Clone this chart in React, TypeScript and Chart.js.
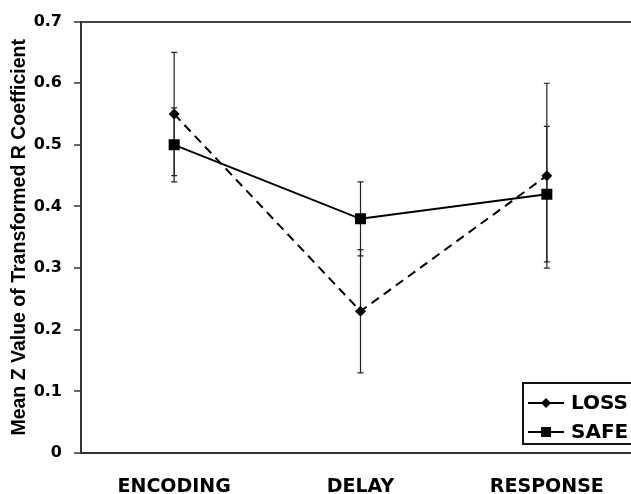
import React, { useEffect, useRef } from "react";
import { Chart, registerables } from "chart.js";

Chart.register(...registerables);

const categories = ["ENCODING", "DELAY", "RESPONSE"];
const lossMeans = [0.55, 0.23, 0.45];
const lossErrors = [0.1, 0.1, 0.15];
const safeMeans = [0.5, 0.38, 0.42];
const safeErrors = [0.06, 0.06, 0.11];
const seriesNames = ["LOSS", "SAFE"];
const yMin = 0;
const yMax = 0.7;
const yStep = 0.1;
const yTitle = "Mean Z Value of Transformed R Coefficient";

const FONT = "'DejaVu Sans', 'Liberation Sans', Arial, sans-serif";
const TITLE_FONT = "'Liberation Sans', Arial, Helvetica, sans-serif";

const errorBarPlugin = {
  id: "errorBars",
  beforeDatasetsDraw(chart: any) {
    const ctx = chart.ctx;
    const xs = chart.scales.x;
    const ys = chart.scales.y;
    ctx.save();
    ctx.strokeStyle = "#222";
    ctx.lineWidth = 1.2;
    chart.data.datasets.forEach((ds: any) => {
      const errs: number[] = ds.errors || [];
      ds.data.forEach((v: number, j: number) => {
        const e = errs[j];
        if (e == null) return;
        const px = xs.getPixelForValue(j);
        const top = ys.getPixelForValue(v + e);
        const bot = ys.getPixelForValue(v - e);
        ctx.beginPath();
        ctx.moveTo(px, top);
        ctx.lineTo(px, bot);
        ctx.moveTo(px - 3, top);
        ctx.lineTo(px + 3, top);
        ctx.moveTo(px - 3, bot);
        ctx.lineTo(px + 3, bot);
        ctx.stroke();
      });
    });
    ctx.restore();
  },
};

const legendPlugin = {
  id: "boxLegend",
  afterDraw(chart: any) {
    const ctx = chart.ctx;
    const area = chart.chartArea;
    const left = area.right - 117;
    const top = area.bottom - 70;
    const w = 140;
    const h = 61;
    ctx.save();
    ctx.fillStyle = "#fff";
    ctx.fillRect(left, top, w, h);
    ctx.strokeStyle = "#111";
    ctx.lineWidth = 2;
    ctx.strokeRect(left, top, w, h);
    chart.data.datasets.forEach((ds: any, i: number) => {
      const cy = top + 20 + i * 29;
      ctx.strokeStyle = "#000";
      ctx.lineWidth = 2;
      ctx.setLineDash([]);
      ctx.beginPath();
      ctx.moveTo(left + 5, cy);
      ctx.lineTo(left + 41, cy);
      ctx.stroke();
      ctx.fillStyle = "#000";
      const cx = left + 23;
      if (ds.pointStyle === "rectRot") {
        const r = 5;
        ctx.beginPath();
        ctx.moveTo(cx, cy - r);
        ctx.lineTo(cx + r, cy);
        ctx.lineTo(cx, cy + r);
        ctx.lineTo(cx - r, cy);
        ctx.closePath();
        ctx.fill();
      } else {
        ctx.fillRect(cx - 5, cy - 5, 10, 10);
      }
      ctx.font = `bold 20px ${FONT}`;
      ctx.textBaseline = "middle";
      ctx.textAlign = "left";
      ctx.fillText(ds.label, left + 48, cy + 1);
    });
    ctx.restore();
  },
};

export default function App() {
  const ref = useRef<HTMLCanvasElement | null>(null);

  useEffect(() => {
    if (!ref.current) return;
    const chart = new Chart(ref.current, {
      type: "line",
      data: {
        labels: categories,
        datasets: [
          {
            label: seriesNames[0],
            data: lossMeans,
            errors: lossErrors,
            borderColor: "#000",
            backgroundColor: "#000",
            borderWidth: 2,
            borderDash: [9, 6],
            pointStyle: "rectRot",
            pointRadius: 5.5,
            pointHoverRadius: 5.5,
            pointBorderWidth: 0,
            tension: 0,
          } as any,
          {
            label: seriesNames[1],
            data: safeMeans,
            errors: safeErrors,
            borderColor: "#000",
            backgroundColor: "#000",
            borderWidth: 2,
            pointStyle: "rect",
            pointRadius: 7.8,
            pointHoverRadius: 7.8,
            pointBorderWidth: 0,
            tension: 0,
          } as any,
        ],
      },
      options: {
        animation: false,
        responsive: false,
        events: [],
        layout: { padding: { top: 20, right: 20, left: 0, bottom: 0 } },
        plugins: {
          legend: { display: false },
          tooltip: { enabled: false },
        },
        scales: {
          x: {
            type: "category",
            offset: true,
            grid: { display: false, drawTicks: false },
            border: { display: true, color: "#333", width: 2 },
            ticks: {
              color: "#000",
              padding: 23,
              font: { family: FONT, size: 19, weight: "bold" },
              maxRotation: 0,
            },
            afterFit(scale: any) {
              scale.height = 41;
            },
          },
          y: {
            min: yMin,
            max: yMax,
            ticks: {
              stepSize: yStep,
              color: "#000",
              padding: 12,
              font: { family: FONT, size: 16, weight: "bold" },
              callback: (v: any) => String(Math.round(Number(v) * 10) / 10),
            },
            grid: {
              drawTicks: true,
              tickLength: 7,
              tickColor: "#333",
              tickWidth: 1.5,
              lineWidth: 2,
              color: (c: any) =>
                c.tick && Math.abs(c.tick.value - yMax) < 1e-9 ? "#444" : "rgba(0,0,0,0)",
            },
            border: { display: true, color: "#333", width: 2 },
            title: {
              display: true,
              text: yTitle,
              color: "#000",
              font: { family: TITLE_FONT, size: 19.5, weight: "bold" },
              padding: { top: 8, bottom: 0 },
            },
            afterFit(scale: any) {
              scale.width = 81;
            },
          },
        },
      } as any,
      plugins: [errorBarPlugin, legendPlugin],
    });
    return () => chart.destroy();
  }, []);

  return (
    <div
      style={{
        position: "fixed",
        left: 0,
        top: 0,
        width: 631,
        height: 494,
        overflow: "hidden",
        background: "#fff",
      }}
    >
      <canvas ref={ref} width={660} height={494} style={{ display: "block" }} />
    </div>
  );
}
